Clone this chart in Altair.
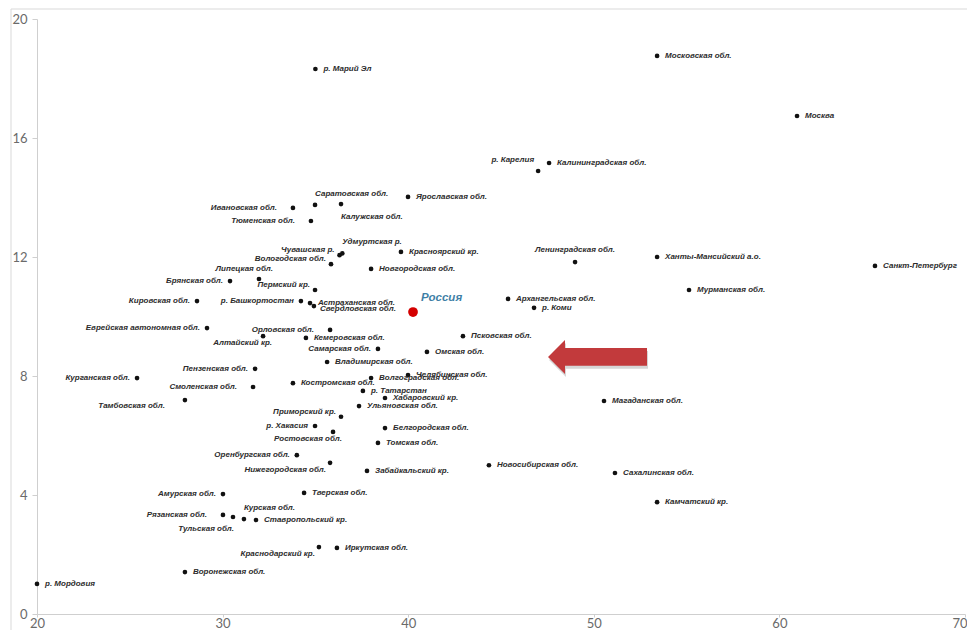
import altair as alt
import pandas as pd

# ---------------- data ----------------
regions = [
    "р. Марий Эл", "Московская обл.", "Москва", "р. Карелия", "Калининградская обл.",
    "Ярославская обл.", "Ивановская обл.", "Саратовская обл.", "Калужская обл.", "Тюменская обл.",
    "Чувашская р.", "Удмуртская р.", "Красноярский кр.", "Вологодская обл.", "Новгородская обл.",
    "Липецкая обл.", "Брянская обл.", "Пермский кр.", "Кировская обл.", "р. Башкортостан",
    "Астраханская обл.", "Свердловская обл.", "Еврейская автономная обл.", "Орловская обл.", "Алтайский кр.",
    "Кемеровская обл.", "Псковская обл.", "Самарская обл.", "Омская обл.", "Владимирская обл.",
    "Пензенская обл.", "Курганская обл.", "Челябинская обл.", "Волгоградская обл.", "Костромская обл.",
    "Смоленская обл.", "р. Татарстан", "Хабаровский кр.", "Тамбовская обл.", "Ульяновская обл.",
    "Приморский кр.", "р. Хакасия", "Ростовская обл.", "Белгородская обл.", "Томская обл.",
    "Оренбургская обл.", "Нижегородская обл.", "Забайкальский кр.", "Новосибирская обл.", "Сахалинская обл.",
    "Камчатский кр.", "Амурская обл.", "Тверская обл.", "Рязанская обл.", "Тульская обл.",
    "Курская обл.", "Ставропольский кр.", "Краснодарский кр.", "Иркутская обл.", "Воронежская обл.",
    "р. Мордовия", "Ленинградская обл.", "Ханты-Мансийский а.о.", "Мурманская обл.", "Архангельская обл.",
    "р. Коми", "Санкт-Петербург", "Магаданская обл.",
]
x_values = [
    35.0, 53.41, 60.95, 47.0, 47.59,
    39.99, 33.79, 34.98, 36.38, 34.76,
    36.3, 36.45, 39.61, 35.84, 38.0,
    31.96, 30.4, 34.98, 28.62, 34.22,
    34.71, 34.92, 29.16, 35.79, 32.18,
    34.49, 42.95, 38.37, 41.01, 35.63,
    31.75, 25.39, 39.99, 38.0, 33.79,
    31.64, 37.56, 38.75, 27.97, 37.35,
    36.38, 34.98, 35.95, 38.75, 38.37,
    34.0, 35.79, 37.78, 44.35, 51.14,
    53.41, 30.02, 34.39, 30.02, 30.56,
    31.15, 31.8, 35.19, 36.16, 27.97,
    20.0, 48.99, 53.41, 55.13, 45.38,
    46.78, 65.15, 50.55,
]
y_values = [
    18.32, 18.76, 16.74, 14.89, 15.16,
    14.02, 13.65, 13.75, 13.78, 13.21,
    12.06, 12.12, 12.17, 11.76, 11.6,
    11.26, 11.19, 10.89, 10.52, 10.52,
    10.45, 10.35, 9.61, 9.55, 9.34,
    9.28, 9.34, 8.91, 8.81, 8.47,
    8.24, 7.93, 8.03, 7.93, 7.76,
    7.63, 7.5, 7.26, 7.19, 6.99,
    6.63, 6.32, 6.12, 6.25, 5.75,
    5.34, 5.08, 4.81, 5.0, 4.74,
    3.76, 4.03, 4.07, 3.33, 3.26,
    3.19, 3.16, 2.25, 2.22, 1.41,
    1.01, 11.83, 12.0, 10.89, 10.59,
    10.29, 11.7, 7.16,
]
label_pos = [
    "R", "R", "R", "ALL", "R",
    "R", "LL", "AR", "BR", "LL",
    "AL", "AR", "R", "AL", "R",
    "AC", "L", "AL", "L", "L",
    "R", "R2", "L", "LL", "BC",
    "R", "R", "L", "R", "R",
    "L", "L", "R", "R", "R",
    "LL", "R", "R", "LLB", "R",
    "AL", "L", "BC", "R", "R",
    "L", "LB", "R", "R", "R",
    "R", "L", "R", "LL", "BL",
    "AR", "R", "LB", "R", "R",
    "R", "A", "R", "R", "R",
    "R", "R", "R",
]

russia_name = ["Россия"]
russia_x = [40.26]
russia_y = [10.15]

arrow_x = [50.2]
arrow_y = [8.64]

x_ticks = [20, 30, 40, 50, 60, 70]
y_ticks = [0, 4, 8, 12, 16, 20]

# ---------------- styles ----------------
POS_STYLE = {
    "R": dict(align="left", dx=8, dy=0),
    "R2": dict(align="left", dx=6, dy=3),
    "L": dict(align="right", dx=-7, dy=0),
    "LL": dict(align="right", dx=-16, dy=0),
    "AL": dict(align="right", dx=-5, dy=-5),
    "ALL": dict(align="right", dx=-4, dy=-11),
    "AR": dict(align="left", dx=0, dy=-11),
    "A": dict(align="center", dx=0, dy=-12),
    "AC": dict(align="right", dx=14, dy=-10),
    "BR": dict(align="left", dx=0, dy=13),
    "BL": dict(align="right", dx=1, dy=12),
    "LB": dict(align="right", dx=-4, dy=7),
    "BC": dict(align="right", dx=9, dy=7),
    "LLB": dict(align="right", dx=-20, dy=6),
}

df = pd.DataFrame({"region": regions, "x": x_values, "y": y_values, "pos": label_pos})
df_rus = pd.DataFrame({"region": russia_name, "x": russia_x, "y": russia_y})
df_arrow = pd.DataFrame({"x": arrow_x, "y": arrow_y})

xs = alt.Scale(domain=[20, 70], nice=False, zero=False)
ys = alt.Scale(domain=[0, 20], nice=False, zero=False)

X = alt.X("x:Q", scale=xs, axis=alt.Axis(
    values=x_ticks, title=None, grid=False, labelPadding=0, tickSize=3,
    labelAlign={"condition": {"test": "datum.value == 70", "value": "right"}, "value": "center"},
    labelOffset={"condition": {"test": "datum.value == 70", "value": 2}, "value": 0},
))
Y = alt.Y("y:Q", scale=ys, axis=alt.Axis(values=y_ticks, title=None, grid=False,
                                           labelPadding=5, tickSize=5))

base = alt.Chart(df)

points = base.mark_circle(size=22, color="#111111", opacity=1).encode(x=X, y=Y)

text_layers = []
for key, st in POS_STYLE.items():
    text_layers.append(
        base.transform_filter(alt.datum.pos == key)
        .mark_text(font="Liberation Sans", fontSize=8, fontStyle="italic", fontWeight="bold",
                   color="#2b2b2b", baseline="middle", **st)
        .encode(x=alt.X("x:Q", scale=xs), y=alt.Y("y:Q", scale=ys), text="region:N")
    )

rus_point = alt.Chart(df_rus).mark_circle(size=95, color="#d40000", opacity=1).encode(
    x=alt.X("x:Q", scale=xs), y=alt.Y("y:Q", scale=ys))
rus_text = alt.Chart(df_rus).mark_text(font="Liberation Sans", fontSize=11.5, fontStyle="italic",
                                       fontWeight="bold", color="#3f7fa6", align="left",
                                       baseline="middle", dx=8, dy=-14).encode(
    x=alt.X("x:Q", scale=xs), y=alt.Y("y:Q", scale=ys), text="region:N")

arrow_path = ("M -1 0 L -0.657 -0.343 L -0.657 -0.18 L 1 -0.18 L 1 0.18 "
              "L -0.657 0.18 L -0.657 0.343 Z")
arrow_shadow = alt.Chart(df_arrow).mark_point(shape=arrow_path, filled=True, size=9801,
                                              color="#8a8a8a", opacity=0.35, strokeWidth=0,
                                              xOffset=1, yOffset=3).encode(
    x=alt.X("x:Q", scale=xs), y=alt.Y("y:Q", scale=ys))
arrow = alt.Chart(df_arrow).mark_point(shape=arrow_path, filled=True, size=9801,
                                       color="#c23a3c", opacity=1, strokeWidth=0).encode(
    x=alt.X("x:Q", scale=xs), y=alt.Y("y:Q", scale=ys))

frame_top = alt.Chart(df_arrow).mark_rule(color="#d9d9d9", strokeWidth=1).encode(
    x=alt.value(-26), x2=alt.value(940), y=alt.value(-10))
frame_left = alt.Chart(df_arrow).mark_rule(color="#d9d9d9", strokeWidth=1).encode(
    x=alt.value(-26), y=alt.value(-10), y2=alt.value(620))

chart = alt.layer(
    frame_top, frame_left, points, *text_layers, rus_point, rus_text, arrow_shadow, arrow
).properties(
    width=928, height=595,
    autosize=alt.AutoSizeParams(type="none"),
    padding={"left": 29, "top": 11, "right": 2, "bottom": 16},
).configure_view(stroke=None).configure_axis(
    domainColor="#cfcfcf", tickColor="#cfcfcf", labelColor="#6a6a6a",
    labelFont="Lato", labelFontSize=13,
)

chart.save("out.html", embed_options={"renderer": "svg", "actions": False})
